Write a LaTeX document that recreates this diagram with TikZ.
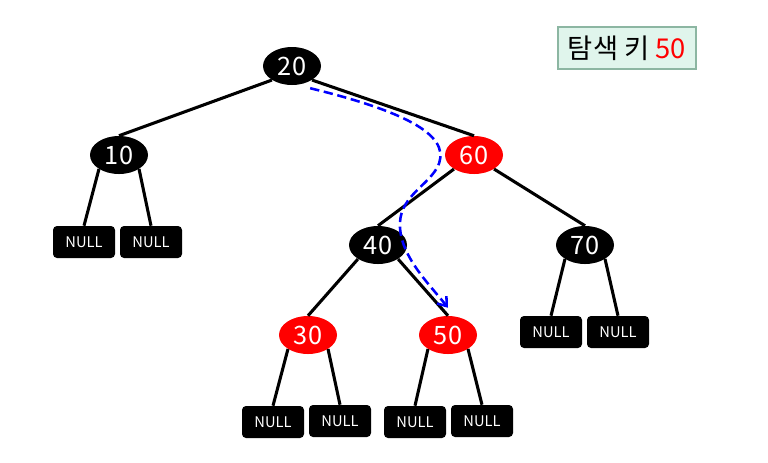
\documentclass[tikz,border=0pt]{standalone}
\usepackage{fontspec}
\setmainfont{Noto Sans CJK KR}
\usetikzlibrary{shapes.geometric,arrows.meta}
\definecolor{keyfill}{RGB}{224,245,236}
\definecolor{keyline}{RGB}{140,182,162}
\tikzset{
  blacknode/.style={ellipse, fill=black, text=white, minimum width=43.5pt, minimum height=28.5pt, inner sep=0pt, font=\fontsize{19}{21}\selectfont},
  rednode/.style={blacknode, fill=red},
  nullbox/.style={rectangle, rounded corners=3pt, fill=black, text=white, minimum width=46.5pt, minimum height=24pt, inner sep=0pt, font=\fontsize{11}{12}\selectfont},
  edge/.style={line width=2.3pt},
  search/.style={blue, line width=1.9pt, dash pattern=on 7pt off 3.5pt, -{Straight Barb[length=6pt,width=9pt]}}
}
\begin{document}
\begin{tikzpicture}[x=0.75pt, y=-0.75pt]
  \useasboundingbox (0,0) rectangle (768,462);
  \node[blacknode] (20) at (292,66) {20};
  \node[blacknode] (10) at (119,155) {10};
  \node[rednode] (60) at (474,155) {60};
  \node[blacknode] (40) at (378,245) {40};
  \node[blacknode] (70) at (585,245) {70};
  \node[rednode] (30) at (308,335) {30};
  \node[rednode] (50) at (448,335) {50};
  \node[nullbox] (n1) at (84,242) {NULL};
  \node[nullbox] (n2) at (151,242) {NULL};
  \node[nullbox] (n3) at (551,332) {NULL};
  \node[nullbox] (n4) at (618,332) {NULL};
  \node[nullbox] (n5) at (273,422) {NULL};
  \node[nullbox] (n6) at (340,421) {NULL};
  \node[nullbox] (n7) at (415,422) {NULL};
  \node[nullbox] (n8) at (482,421) {NULL};
  \node[draw=keyline, fill=keyfill, line width=1.5pt, minimum width=103pt, minimum height=31pt, inner sep=0pt, font=\fontsize{20.5}{22}\selectfont] (key) at (627,48) {탐색 키 \textcolor{red}{50}};
  \draw[edge] (20.-145) -- (10.north);
  \draw[edge] (20.-35) -- (60.north);
  \draw[edge] (10.-145) -- (n1.north);
  \draw[edge] (10.-35) -- (n2.north);
  \draw[edge] (60.-145) -- (40.north);
  \draw[edge] (60.-35) -- (70.north);
  \draw[edge] (40.-145) -- (30.north);
  \draw[edge] (40.-35) -- (50.north);
  \draw[edge] (70.-145) -- (n3.north);
  \draw[edge] (70.-35) -- (n4.north);
  \draw[edge] (30.-145) -- (n5.north);
  \draw[edge] (30.-35) -- (n6.north);
  \draw[edge] (50.-145) -- (n7.north);
  \draw[edge] (50.-35) -- (n8.north);
  \draw[search] ([xshift=3pt,yshift=-4pt]20.-50) .. controls (420,115) and (452,140) .. (437,168)
    .. controls (425,188) and (398,198) .. (400,228)
    .. controls (402,258) and (430,285) .. ([yshift=6pt]50.north);
\end{tikzpicture}
\end{document}
